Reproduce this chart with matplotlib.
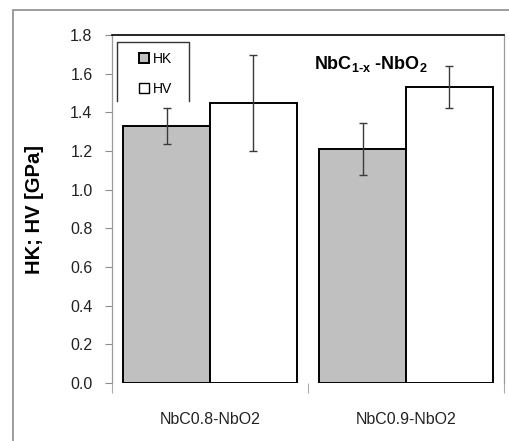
import numpy as np
import matplotlib
matplotlib.use('Agg')
import matplotlib.pyplot as plt
from matplotlib.patches import Rectangle
from matplotlib.lines import Line2D

plt.rcParams['font.family'] = ['Liberation Sans', 'DejaVu Sans']
plt.rcParams['mathtext.fontset'] = 'custom'
plt.rcParams['mathtext.rm'] = 'Liberation Sans:bold'
plt.rcParams['mathtext.bf'] = 'Liberation Sans:bold'
plt.rcParams['mathtext.it'] = 'Liberation Sans:bold'

# --- data
samples = ['NbC0.8-NbO2', 'NbC0.9-NbO2']
hk = [1.33, 1.21]
hk_err = [0.095, 0.135]
hv = [1.45, 1.53]
hv_err = [0.248, 0.108]
yticks = [0.0, 0.2, 0.4, 0.6, 0.8, 1.0, 1.2, 1.4, 1.6, 1.8]

fig = plt.figure(figsize=(5.10, 4.41), dpi=100)
ax = fig.add_axes([112/510, 58/441, 392/510, 348/441])

# outer chart frame (only left/top visible)
fig.patches.append(Rectangle((13/510, -0.05), 1.2, (431/441) + 0.05,
                             transform=fig.transFigure, fill=False,
                             edgecolor='#8c8c8c', lw=1.2))

x = np.arange(len(samples))
w = 0.442
ekw = dict(ecolor='#3a3a3a', elinewidth=1.0, capsize=2.6, capthick=1.0)
ax.bar(x - w/2, hk, w, yerr=hk_err, color='#c0c0c0', edgecolor='black',
       lw=1.4, error_kw=ekw, label='HK', zorder=2)
ax.bar(x + w/2, hv, w, yerr=hv_err, color='white', edgecolor='black',
       lw=1.4, error_kw=ekw, label='HV', zorder=2)

ax.set_xlim(-0.5, 1.5)
ax.set_ylim(0, 1.8)
ax.set_yticks(yticks)
ax.set_yticklabels(['%.1f' % t for t in yticks], fontsize=11.5, color='#222222')
ax.tick_params(axis='y', direction='out', length=5, width=0.8, color='#8c8c8c', pad=9)

# category boundary ticks
ax.set_xticks([-0.5, 0.5, 1.5])
ax.set_xticklabels([])
ax.set_xticks(x, minor=True)
ax.set_xticklabels(samples, minor=True, fontsize=11.5, color='#222222')
ax.tick_params(axis='x', which='major', direction='out', length=7, width=0.8, color='#aaaaaa')
ax.tick_params(axis='x', which='minor', length=0, pad=21)

for s in ['left', 'right']:
    ax.spines[s].set_color('#9a9a9a')
    ax.spines[s].set_linewidth(0.9)
ax.spines['top'].set_color('black')
ax.spines['top'].set_linewidth(1.2)
ax.spines['bottom'].set_visible(False)

ax.set_ylabel('HK; HV [GPa]', fontsize=14.5, fontweight='bold', labelpad=19)

# legend box, bottom edge cut off like the original
lx0, lx1, ly0, ly1 = 0.0128, 0.196, 0.81, 0.979
ax.add_line(Line2D([lx0, lx0, lx1, lx1], [ly0, ly1, ly1, ly0],
                   transform=ax.transAxes, color='#333333', lw=1.0, zorder=5))
leg_h = [Rectangle((0, 0), 1, 1, facecolor='#c0c0c0', edgecolor='black', lw=1.4),
         Rectangle((0, 0), 1, 1, facecolor='white', edgecolor='black', lw=1.0)]
ax.legend(leg_h, ['HK', 'HV'], loc='upper left', bbox_to_anchor=(0.045, 0.98),
          frameon=False, fontsize=10, handlelength=0.7, handleheight=0.7,
          handletextpad=0.3, labelspacing=1.15, borderaxespad=0.3)

ax.text(0.66, 0.917, r'NbC$_{1\text{-}x}$ -NbO$_2$', transform=ax.transAxes,
        ha='center', va='center', fontsize=13, fontweight='bold')

fig.savefig('out.png', dpi=100)
